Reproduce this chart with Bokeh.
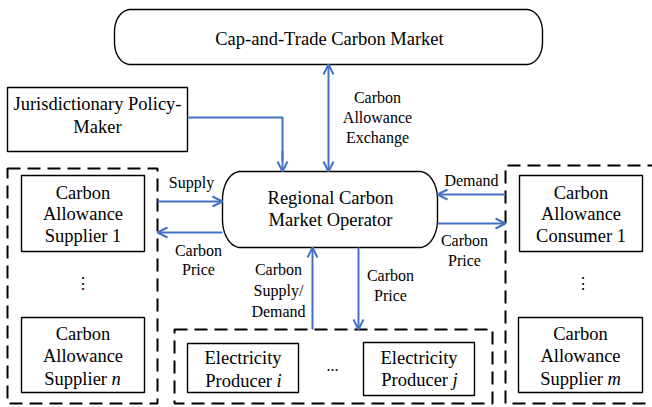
import numpy as np
from bokeh.plotting import figure
from bokeh.models import Range1d, Arrow, OpenHead
from bokeh.core.properties import value
from bokeh.embed import file_html
from bokeh.resources import INLINE

# ---- text content of the diagram ----
top_market = ["Cap-and-Trade Carbon Market"]
policy_maker = ["Jurisdictionary Policy-", "Maker"]
regional_operator = ["Regional Carbon", "Market Operator"]
supplier_1 = ["Carbon", "Allowance", "Supplier 1"]
supplier_n = ["Carbon", "Allowance", "Supplier", "n"]
consumer_1 = ["Carbon", "Allowance", "Consumer 1"]
supplier_m = ["Carbon", "Allowance", "Supplier", "m"]
producer_i = ["Electricity", "Producer", "i"]
producer_j = ["Electricity", "Producer", "j"]
label_exchange = ["Carbon", "Allowance", "Exchange"]
label_supply = ["Supply"]
label_price_left = ["Carbon", "Price"]
label_demand = ["Demand"]
label_price_right = ["Carbon", "Price"]
label_supply_demand = ["Carbon", "Supply/", "Demand"]
label_price_down = ["Carbon", "Price"]
vertical_dots = ["\u22EE", "\u22EE"]
horizontal_dots = ["..."]

# ---- styling ----
FONT = value("Liberation Serif")
BLUE = "#4472C4"
BOX_FS = "18.5px"
LAB_FS = "16px"

p = figure(width=652, height=407, output_backend="svg", toolbar_location=None,
           x_range=Range1d(0, 652), y_range=Range1d(407, 0),
           min_border=0, background_fill_color="white")
p.axis.visible = False
p.grid.visible = False
p.outline_line_color = None


def stadium(x0, y0, x1, y1, rx, ry, n=24):
    xs, ys = [], []
    corners = [(x1 - rx, y0 + ry, -90, 0), (x1 - rx, y1 - ry, 0, 90),
               (x0 + rx, y1 - ry, 90, 180), (x0 + rx, y0 + ry, 180, 270)]
    for cx, cy, a0, a1 in corners:
        t = np.radians(np.linspace(a0, a1, n))
        xs.extend(cx + rx * np.cos(t))
        ys.extend(cy + ry * np.sin(t))
    return xs, ys


# dashed group boxes
p.quad(left=[7, 174], right=[157, 492], top=[168, 329], bottom=[403, 403],
       fill_color=None, line_color="black", line_width=2, line_dash="13 7")
p.multi_line(xs=[[700, 505, 505, 700]], ys=[[165, 165, 403, 403]],
             line_color="black", line_width=2, line_dash="13 7")

# rounded boxes
for (x0, y0, x1, y1, rx, ry) in [(114, 9, 542, 64, 16, 22), (222, 171, 437, 247, 18, 28)]:
    xs, ys = stadium(x0, y0, x1, y1, rx, ry)
    p.patch(xs, ys, fill_color="white", line_color="black", line_width=1.4)

# rectangular boxes
p.quad(left=[7, 21, 21, 519, 518, 187, 363],
       right=[187, 144, 144, 642, 642, 298, 474],
       top=[87, 175, 317, 175, 317, 343, 342],
       bottom=[151, 251, 392, 251, 392, 392, 395],
       fill_color="white", line_color="black", line_width=1.4)

# blue connectors
p.line([187, 282, 282], [117, 117, 160], line_color=BLUE, line_width=2)


def arrow(x0, y0, x1, y1, both=False):
    head = lambda: OpenHead(size=10, line_color=BLUE, line_width=2)
    p.add_layout(Arrow(x_start=x0, y_start=y0, x_end=x1, y_end=y1,
                       start=head() if both else None, end=head(),
                       line_color=BLUE, line_width=2))


arrow(282, 150, 282, 171)
arrow(328, 171, 328, 64, both=True)
arrow(157, 201, 222, 201)
arrow(222, 232, 157, 232)
arrow(505, 194, 437, 194)
arrow(437, 223, 505, 223)
arrow(312, 329, 312, 247)
arrow(358, 247, 358, 329)


def lines(texts, xs, ys, size, align="center", style="normal"):
    p.text(x=xs, y=ys, text=texts, text_font=FONT, text_font_size=size,
           text_align=align, text_baseline="middle", text_color="black",
           text_font_style=style)


# box texts
lines(top_market, [329], [38], BOX_FS)
lines(policy_maker, [97, 97], [103, 126], BOX_FS)
lines(regional_operator, [330, 330], [197, 219], BOX_FS)
lines(supplier_1, [82.5] * 3, [192, 213.5, 235], BOX_FS)
lines(consumer_1, [580.5] * 3, [192, 213.5, 235], BOX_FS)
lines(supplier_n[:2], [82.5] * 2, [333, 355.5], BOX_FS)
lines(supplier_m[:2], [580] * 2, [333, 355.5], BOX_FS)
lines(producer_i[:1], [242.5], [357], BOX_FS)
lines(producer_j[:1], [418.5], [357], BOX_FS)
# lines with an italic index
lines([supplier_n[2], supplier_m[2], producer_i[1], producer_j[1]],
      [106.5, 602.5, 271.5, 447.5], [378, 378, 380, 379], BOX_FS, align="right")
lines([supplier_n[3], supplier_m[3], producer_i[2], producer_j[2]],
      [111, 607, 276, 452], [378, 378, 380, 379], BOX_FS, align="left", style="italic")

# flow labels
lines(label_exchange, [377] * 3, [97, 117, 137], LAB_FS)
lines(label_supply, [191], [182], LAB_FS)
lines(label_price_left, [198, 198], [250, 269], LAB_FS)
lines(label_demand, [471], [180], LAB_FS)
lines(label_price_right, [464, 464], [240, 260], LAB_FS)
lines(label_supply_demand, [278] * 3, [269, 290, 311], LAB_FS)
lines(label_price_down, [390, 390], [275, 295], LAB_FS)

# ellipses
p.text(x=[82.5, 582], y=[283, 283], text=vertical_dots, text_font=value("DejaVu Serif"),
       text_font_size="16px", text_align="center", text_baseline="middle", text_color="black")
lines(horizontal_dots, [332], [365], LAB_FS)

open("out.html", "w").write(file_html(p, INLINE))
